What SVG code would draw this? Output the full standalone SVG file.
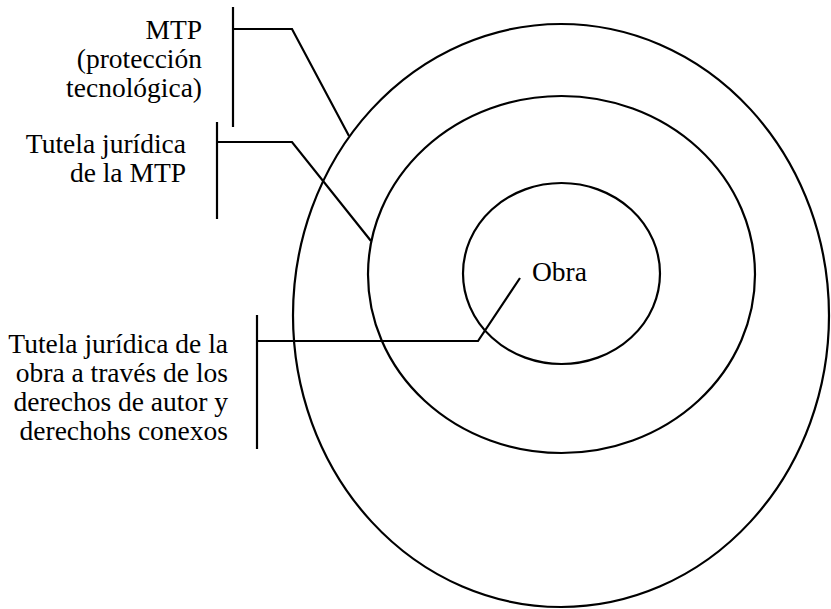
<svg xmlns="http://www.w3.org/2000/svg" width="831" height="609" viewBox="0 0 831 609">
<style>
.ring{fill:none;stroke:#000;stroke-width:2.2}
.conn{fill:none;stroke:#000;stroke-width:2.2;stroke-linejoin:miter}
text{font-family:"Liberation Serif","Times New Roman",Times,serif;font-size:27.5px;fill:#000}
</style>
<rect width="831" height="609" fill="#fff"/>
<g id="outer"><ellipse class="ring" cx="561" cy="315.5" rx="268" ry="291.5"/></g>
<g id="middle"><ellipse class="ring" cx="561.5" cy="274.5" rx="193.5" ry="178.5"/></g>
<g id="inner"><ellipse class="ring" cx="561.5" cy="273.5" rx="98.5" ry="90.5"/>
<text font-family="Liberation Serif, serif" x="532" y="281" font-size="28.5">Obra</text></g>
<g id="label-mtp"><text font-family="Liberation Serif, serif" text-anchor="end"><tspan x="202" y="39">MTP</tspan><tspan x="202" y="68">(protección</tspan><tspan x="202" y="97">tecnológica)</tspan></text></g>
<g id="label-tutela-mtp"><text font-family="Liberation Serif, serif" text-anchor="end"><tspan x="186" y="153">Tutela jurídica</tspan><tspan x="186" y="182">de la MTP</tspan></text></g>
<g id="label-tutela-obra"><text font-family="Liberation Serif, serif" text-anchor="end"><tspan x="228" y="353">Tutela jurídica de la</tspan><tspan x="228" y="382">obra a través de los</tspan><tspan x="228" y="411">derechos de autor y</tspan><tspan x="228" y="440">derechohs conexos</tspan></text></g>
<g id="connectors">
<line class="conn" x1="233" y1="7" x2="233" y2="127"/>
<polyline class="conn" points="233,29 292,29 349,136"/>
<line class="conn" x1="217" y1="122" x2="217" y2="219"/>
<polyline class="conn" points="217,142 292,142 371,241"/>
<line class="conn" x1="257" y1="315" x2="257" y2="449"/>
<polyline class="conn" points="257,341 478,341 520,278"/>
</g>
</svg>
